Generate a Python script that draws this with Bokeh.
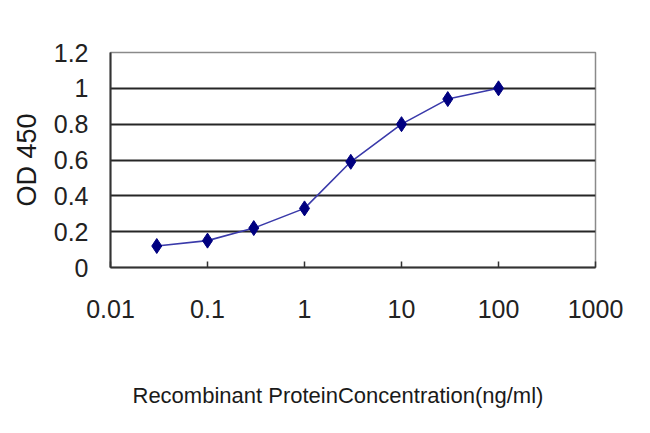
from bokeh.plotting import figure
from bokeh.models import FixedTicker, CustomJSTickFormatter, Range1d, Title
from bokeh.embed import file_html
from bokeh.resources import INLINE

# ---- data ----
concentration = [0.03, 0.1, 0.3, 1, 3, 10, 30, 100]
od450 = [0.12, 0.15, 0.22, 0.33, 0.59, 0.80, 0.94, 1.00]

x_tick_values = [0.01, 0.1, 1, 10, 100, 1000]
x_tick_labels = ["0.01", "0.1", "1", "10", "100", "1000"]
y_tick_values = [0, 0.2, 0.4, 0.6, 0.8, 1.0, 1.2]
y_tick_labels = ["0", "0.2", "0.4", "0.6", "0.8", "1", "1.2"]

x_title = "Recombinant ProteinConcentration(ng/ml)"
y_title = "OD 450"

FONT = "Liberation Sans"

p = figure(width=642, height=425, x_axis_type="log",
           x_range=Range1d(0.01, 1000), y_range=Range1d(0, 1.2),
           output_backend="svg", toolbar_location=None,
           min_border_left=110, min_border_right=47,
           min_border_top=52, min_border_bottom=158)

p.background_fill_color = "white"
p.border_fill_color = "white"
p.outline_line_color = "#8a8a8a"
p.outline_line_width = 1.5

fmt_code = """
for (let i = 0; i < vals.length; i++) {
  if (Math.abs(tick - vals[i]) < 1e-9 * Math.max(1, Math.abs(vals[i]))) return labels[i];
}
return '';
"""

# x axis
xa = p.xaxis[0]
xa.ticker = FixedTicker(ticks=x_tick_values)
xa.formatter = CustomJSTickFormatter(args=dict(vals=x_tick_values, labels=x_tick_labels), code=fmt_code)
xa.major_label_text_font = FONT
xa.major_label_text_font_size = "25px"
xa.major_label_text_color = "#222222"
xa.major_label_standoff = 32
xa.major_tick_in = 6
xa.major_tick_out = 0
xa.major_tick_line_color = "#333333"
xa.major_tick_line_width = 1.5
xa.minor_tick_line_color = None
xa.axis_line_color = "#333333"
xa.axis_line_width = 2

# x axis title: slightly left of the frame centre, as in the reference
try:
    xt = Title(text=x_title, align="left", offset=22, vertical_align="top",
               standoff=0, text_font=FONT, text_font_size="22px",
               text_font_style="normal", text_color="#1a1a1a",
               padding=dict(top=62, bottom=0, left=0, right=0))
    p.add_layout(xt, "below")
except Exception:
    xa.axis_label = x_title
    xa.axis_label_text_font = FONT
    xa.axis_label_text_font_size = "22px"
    xa.axis_label_text_font_style = "normal"
    xa.axis_label_text_color = "#1a1a1a"
    xa.axis_label_standoff = 60

# y axis
ya = p.yaxis[0]
ya.ticker = FixedTicker(ticks=y_tick_values)
ya.formatter = CustomJSTickFormatter(args=dict(vals=y_tick_values, labels=y_tick_labels), code=fmt_code)
ya.axis_label = y_title
ya.axis_label_text_font = FONT
ya.axis_label_text_font_size = "27px"
ya.axis_label_text_font_style = "normal"
ya.axis_label_text_color = "#1a1a1a"
ya.axis_label_standoff = 9
ya.major_label_text_font = FONT
ya.major_label_text_font_size = "25px"
ya.major_label_text_color = "#222222"
ya.major_label_standoff = 22
ya.major_tick_in = 0
ya.major_tick_out = 0
ya.minor_tick_line_color = None
ya.axis_line_color = "#333333"
ya.axis_line_width = 2

p.xgrid.grid_line_color = None
p.ygrid.ticker = FixedTicker(ticks=y_tick_values)
p.ygrid.grid_line_color = "#262626"
p.ygrid.grid_line_width = 2

p.line(concentration, od450, line_color="#3a3aaa", line_width=1.6)
p.scatter(concentration, od450, marker="diamond", size=15,
          fill_color="#000080", line_color="#000080")

open("out.html", "w").write(file_html(p, INLINE))
